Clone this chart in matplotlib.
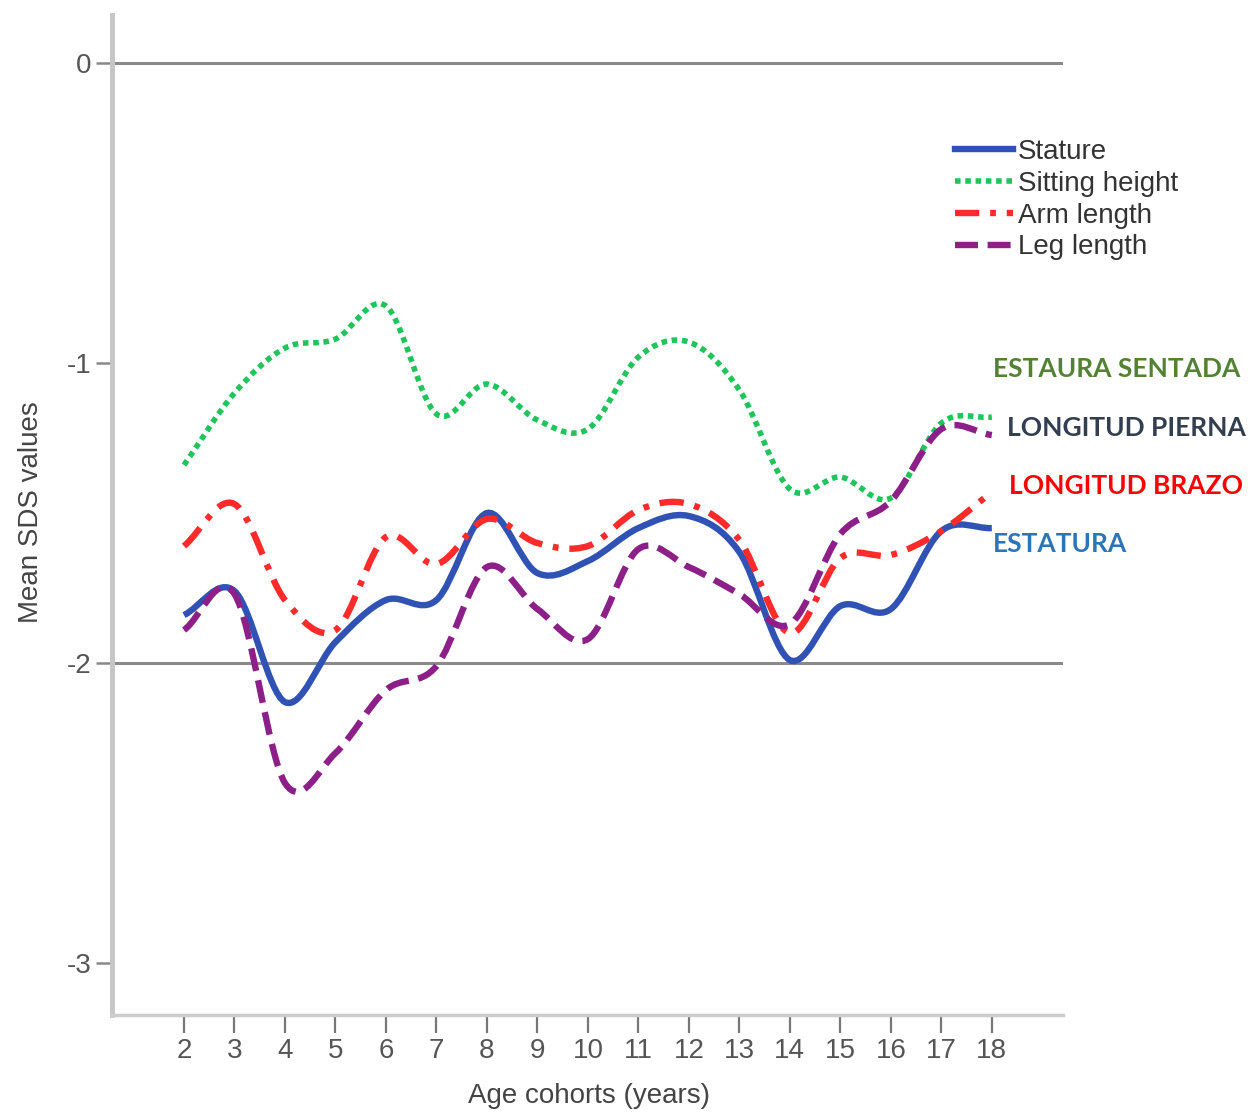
import numpy as np
import matplotlib
matplotlib.use("Agg")
import matplotlib.pyplot as plt
from matplotlib.path import Path
from matplotlib.patches import PathPatch
from matplotlib.lines import Line2D

# mean SDS values per age cohort
ages = np.arange(2, 19)
stature = [-1.84, -1.76, -2.13, -1.93, -1.79, -1.79, -1.50, -1.70, -1.66,
           -1.55, -1.51, -1.63, -1.99, -1.81, -1.82, -1.56, -1.55]
sitting = [-1.34, -1.10, -0.95, -0.92, -0.81, -1.17, -1.07, -1.19, -1.22,
           -0.98, -0.93, -1.09, -1.42, -1.38, -1.45, -1.20, -1.18]
arm = [-1.61, -1.47, -1.79, -1.89, -1.58, -1.67, -1.52, -1.60, -1.61,
       -1.49, -1.47, -1.59, -1.90, -1.65, -1.64, -1.56, -1.43]
leg = [-1.89, -1.77, -2.40, -2.30, -2.09, -2.01, -1.68, -1.82, -1.92,
       -1.62, -1.68, -1.77, -1.87, -1.57, -1.46, -1.22, -1.24]

series_labels = ["Stature", "Sitting height", "Arm length", "Leg length"]
ytick_vals = [0, -1, -2, -3]
ytick_text = ["0", "-1", "-2", "-3"]

base = ["Liberation Sans", "DejaVu Sans"]


def smooth_path(x, y):
    # cardinal (Catmull-Rom) spline through the points, as cubic Bezier segments
    x = np.asarray(x, float)
    y = np.asarray(y, float)
    m = np.gradient(y, x)
    verts = [(x[0], y[0])]
    codes = [Path.MOVETO]
    for i in range(len(x) - 1):
        h = x[i + 1] - x[i]
        verts += [(x[i] + h / 3, y[i] + m[i] * h / 3),
                  (x[i + 1] - h / 3, y[i + 1] - m[i + 1] * h / 3),
                  (x[i + 1], y[i + 1])]
        codes += [Path.CURVE4] * 3
    return Path(verts, codes)


fig = plt.figure(figsize=(12.58, 11.13), dpi=100)
ax = fig.add_axes([112 / 1258, 98 / 1113, 951 / 1258, 1000 / 1113])
ax.set_xlim(0.574, 19.41)
ax.set_ylim(-3.173, 0.16)

ax.axhline(0, color="#8a8a8a", lw=2.2, zorder=1)
ax.axhline(-2, color="#8a8a8a", lw=2.2, zorder=1)

styles = [
    dict(color="#2f52b4", lw=4.6, ls="-"),
    dict(color="#1fc45a", lw=4.0, ls=(0, (1.0, 0.85))),
    dict(color="#ff2b2b", lw=4.6, ls=(0, (3.8, 1.7, 0.9, 1.7))),
    dict(color="#8c1f88", lw=4.6, ls=(0, (3.6, 1.5))),
]
handles = []
for vals, st in zip([stature, sitting, arm, leg], styles):
    patch = PathPatch(smooth_path(ages, vals), fill=False, edgecolor=st["color"],
                      lw=st["lw"], linestyle=st["ls"], capstyle="butt", zorder=3)
    ax.add_patch(patch)
    handles.append(Line2D([], [], color=st["color"], lw=st["lw"], ls=st["ls"]))

for s in ["top", "right"]:
    ax.spines[s].set_visible(False)
ax.spines["left"].set_color("#c6c6c6")
ax.spines["left"].set_linewidth(3.5)
ax.spines["bottom"].set_color("#cccccc")
ax.spines["bottom"].set_linewidth(2.5)

ax.set_xticks(ages)
ax.set_xticklabels([str(a) for a in ages], family=base, fontsize=20, color="#555555")
ax.set_yticks(ytick_vals)
ax.set_yticklabels(ytick_text, family=base, fontsize=20, color="#555555")
ax.tick_params(axis="x", length=13, width=1.6, color="#777777", pad=3.5)
ax.tick_params(axis="y", length=11.5, width=1.8, color="#888888", pad=3)

ax.set_xlabel("Age cohorts (years)", family=base, fontsize=20, color="#444444")
ax.xaxis.set_label_coords(0.5016, -0.068)
ax.set_ylabel("Mean SDS values", family=base, fontsize=20, color="#444444")
ax.yaxis.set_label_coords(-0.071, 0.503)

ax.legend(handles, series_labels, loc="upper left",
          bbox_to_anchor=(955 / 1258, 1 - 139 / 1113), bbox_transform=fig.transFigure,
          frameon=False, borderpad=0, borderaxespad=0, handlelength=2.1,
          handletextpad=0.15, labelspacing=0.21,
          prop=dict(family=base, size=20), labelcolor="#333333")

notes = [("ESTAURA SENTADA", 993, 369, "#548235"),
         ("LONGITUD PIERNA", 1007, 428, "#333f50"),
         ("LONGITUD BRAZO", 1009, 486, "#ff0000"),
         ("ESTATURA", 993, 544, "#2e75b6")]
for txt, px, py, col in notes:
    fig.text(px / 1258, 1 - py / 1113, txt, color=col, fontsize=19,
             fontweight="bold", family=["Lato", "DejaVu Sans"], ha="left", va="center")

fig.savefig("out.png", dpi=100)
